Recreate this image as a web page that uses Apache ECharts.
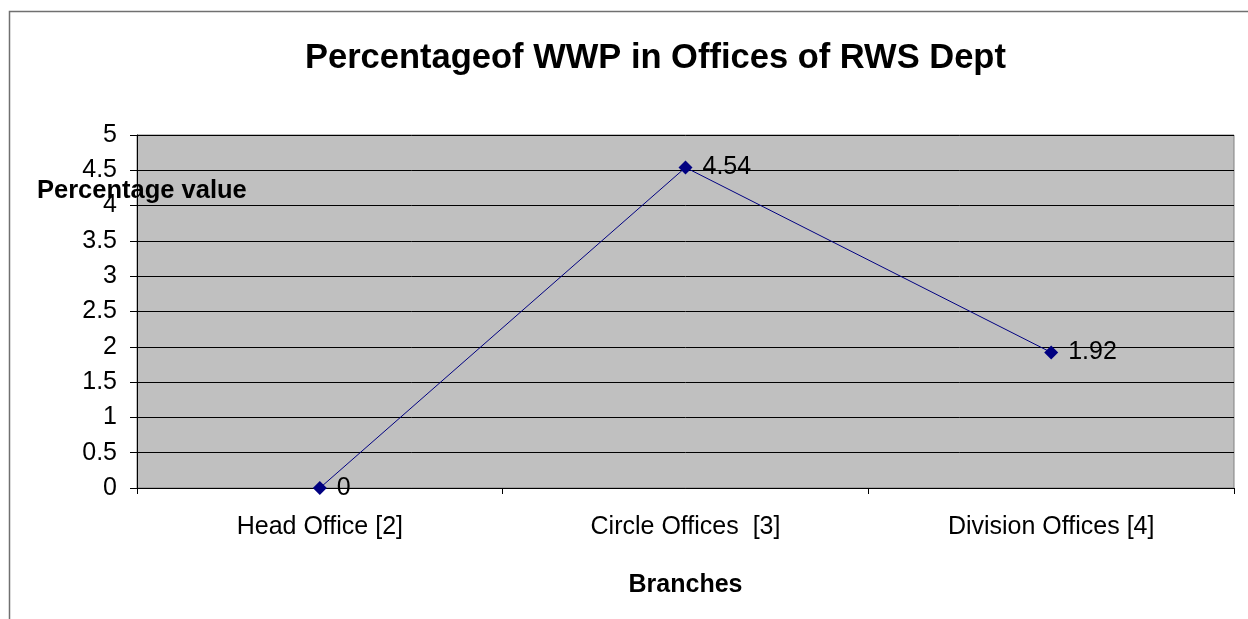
<!DOCTYPE html>
<html>
<head>
<meta charset="utf-8">
<script src="https://cdn.jsdelivr.net/npm/echarts@6/dist/echarts.min.js"></script>
<style>html,body{margin:0;padding:0;background:#fff}#c{width:1248px;height:619px}</style>
</head>
<body>
<div id="c"></div>
<script>
var categories = ['Head Office [2]', 'Circle Offices  [3]', 'Division Offices [4]'];
var values = [0, 4.54, 1.92];
var titleText = 'Percentageof WWP in Offices of RWS Dept';
var yAxisName = 'Percentage value';
var xAxisName = 'Branches';

var chart = echarts.init(document.getElementById('c'));
var font = 'Liberation Sans, Arial, sans-serif';
chart.setOption({
  backgroundColor: '#ffffff',
  animation: false,
  graphic: [{
    type: 'rect', left: 7, top: 9, silent: true,
    shape: { width: 1260, height: 640 },
    style: { fill: 'none', stroke: '#707070', lineWidth: 1.5 }
  }, {
    type: 'text', left: 37, top: 178, z: 100,
    style: { text: yAxisName, font: 'bold 25.5px ' + font, fill: '#000' }
  }],
  title: {
    text: titleText, left: 300, top: 36,
    textStyle: { fontFamily: font, fontSize: 34.5, fontWeight: 'bold', color: '#000' }
  },
  grid: {
    left: 137, right: 14, top: 135, bottom: 131,
    show: true, backgroundColor: '#C0C0C0', borderColor: '#808080', borderWidth: 1
  },
  xAxis: {
    type: 'category', data: categories, boundaryGap: true,
    name: xAxisName, nameLocation: 'middle', nameGap: 85,
    nameTextStyle: { fontFamily: font, fontSize: 25, fontWeight: 'bold', color: '#000' },
    axisLine: { lineStyle: { color: '#000', width: 1 } },
    axisTick: { show: true, interval: 0, alignWithLabel: false, length: 6, lineStyle: { color: '#000' } },
    axisLabel: { fontFamily: font, fontSize: 25, color: '#000', margin: 27, interval: 0 },
    splitLine: { show: false }
  },
  yAxis: {
    type: 'value', min: 0, max: 5, interval: 0.5,
    axisLine: { show: true, lineStyle: { color: '#000', width: 1 } },
    axisTick: { show: true, length: 7, lineStyle: { color: '#000' } },
    axisLabel: { fontFamily: font, fontSize: 25, color: '#000', margin: 20 },
    splitLine: { show: true, lineStyle: { color: '#000', width: 1 } }
  },
  series: [{
    type: 'line', data: values,
    symbol: 'diamond', symbolSize: 14,
    lineStyle: { color: '#000080', width: 1 },
    itemStyle: { color: '#000080' },
    label: { show: true, position: 'right', distance: 10, fontFamily: font, fontSize: 25, color: '#000' }
  }]
});
</script>
</body>
</html>
